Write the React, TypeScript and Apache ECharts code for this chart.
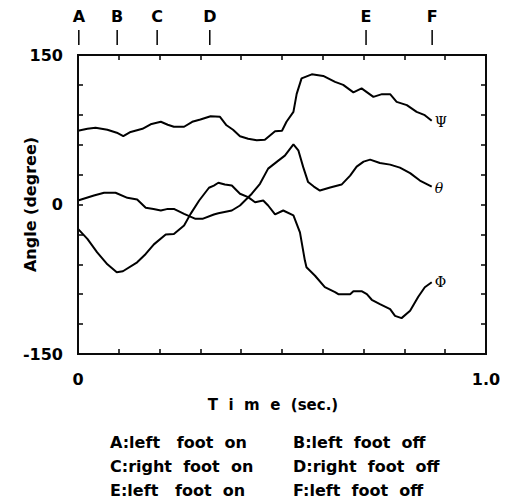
import React, { useEffect, useRef } from "react";
import * as echarts from "echarts";

// Event markers (time in sec.)
const eventTimes = [0.002, 0.096, 0.194, 0.323, 0.706, 0.868];
const eventLabels = ["A", "B", "C", "D", "E", "F"];

// Axis range and tick labels
const xRange = [0, 1];
const yRange = [-150, 150];
const xTickLabels: Record<string, string> = { "0": "0", "1": "1.0" };
const yTickLabels: Record<string, string> = { "-150": "-150", "0": "0", "150": "150" };

// Series: [time (sec.), angle (degree)]
const psi: number[][] = [
  [0, 74], [0.023, 76], [0.043, 77], [0.072, 75], [0.095, 72], [0.111, 68.5], [0.129, 72.8],
  [0.158, 76], [0.178, 80.5], [0.203, 83], [0.22, 80], [0.235, 78], [0.26, 78], [0.28, 83],
  [0.3, 85.3], [0.325, 88.6], [0.348, 88], [0.364, 79.5], [0.38, 75], [0.397, 68.5],
  [0.417, 66], [0.438, 64.4], [0.458, 65], [0.483, 73.5], [0.5, 74], [0.511, 83], [0.528, 93],
  [0.536, 111], [0.548, 126.5], [0.573, 130.6], [0.601, 129], [0.63, 123], [0.65, 120],
  [0.675, 112.5], [0.695, 116.5], [0.724, 108], [0.745, 110.7], [0.765, 110.7], [0.781, 103],
  [0.806, 99.7], [0.83, 93], [0.85, 89.6], [0.867, 84],
];
const theta: number[][] = [
  [0, 4], [0.039, 9], [0.064, 11.8], [0.092, 11.8], [0.121, 6.7], [0.145, 5], [0.166, -3.3],
  [0.185, -4.5], [0.203, -6], [0.22, -4.4], [0.235, -4.4], [0.26, -9.4], [0.288, -14.4],
  [0.305, -14.4], [0.333, -10], [0.344, -8.7], [0.377, -6], [0.397, -1], [0.426, 10.8],
  [0.446, 20.8], [0.466, 36], [0.491, 44], [0.507, 49], [0.528, 60.4], [0.54, 54.4],
  [0.552, 37.5], [0.564, 22.5], [0.578, 18], [0.593, 14], [0.618, 17], [0.646, 20],
  [0.667, 29], [0.683, 38], [0.7, 43], [0.716, 45], [0.74, 41.6], [0.765, 40], [0.789, 37],
  [0.814, 31.5], [0.838, 24], [0.867, 18],
];
const phi: number[][] = [
  [0, -24.5], [0.023, -34.5], [0.047, -48], [0.072, -60], [0.095, -68], [0.11, -67],
  [0.145, -58], [0.166, -49.6], [0.186, -40], [0.215, -30], [0.235, -29.5], [0.26, -21],
  [0.276, -9.4], [0.297, 4], [0.321, 16.8], [0.333, 19], [0.344, 21.8], [0.36, 20],
  [0.377, 19], [0.397, 10.8], [0.417, 7.4], [0.434, 2.3], [0.454, 4], [0.466, -1],
  [0.483, -10], [0.503, -6], [0.528, -11], [0.544, -28], [0.556, -56], [0.56, -63],
  [0.581, -71.5], [0.605, -83], [0.63, -88], [0.638, -90], [0.667, -90], [0.675, -87],
  [0.695, -87], [0.708, -90], [0.72, -95.6], [0.74, -100], [0.765, -105], [0.777, -111.7],
  [0.793, -114], [0.814, -106.7], [0.834, -92.6], [0.85, -83], [0.867, -78],
];

const legendLeft = ["A:left   foot  on", "C:right  foot  on", "E:left   foot  on"];
const legendRight = ["B:left  foot  off", "D:right  foot  off", "F:left  foot  off"];

const SANS = "DejaVu Sans";
const SERIF = "DejaVu Serif";
const INK = "#000000";

export default function App() {
  const ref = useRef<HTMLDivElement>(null);
  useEffect(() => {
    document.body.style.margin = "0";
    if (!ref.current) return;
    const chart = echarts.init(ref.current, null, { renderer: "svg" });
    const mkLine = () => ({ show: true, onZero: false, lineStyle: { color: INK, width: 2 } });
    const mkTick = () => ({ show: true, inside: true, length: 5, lineStyle: { color: INK, width: 1.5 } });
    const lineSeries = (name: string, data: number[][], italic: boolean, dy: number) => ({
      type: "line",
      name,
      data,
      xAxisIndex: 0,
      yAxisIndex: 0,
      showSymbol: false,
      symbol: "none",
      lineStyle: { color: INK, width: 2 },
      endLabel: {
        show: true,
        formatter: name,
        fontFamily: SERIF,
        fontSize: 14,
        fontStyle: italic ? "italic" : "normal",
        color: INK,
        distance: 3,
        offset: [0, dy],
      },
    });
    const graphics: any[] = [];
    const rowsY = [443, 467, 491];
    rowsY.forEach((y, i) => {
      graphics.push({
        type: "text",
        left: 110,
        top: y - 9,
        style: { text: legendLeft[i], font: `bold 16px ${SANS}`, fill: INK },
      });
      graphics.push({
        type: "text",
        left: 293,
        top: y - 9,
        style: { text: legendRight[i], font: `bold 16px ${SANS}`, fill: INK },
      });
    });
    chart.setOption({
      animation: false,
      grid: { left: 78, top: 55, width: 408, height: 299, outerBoundsMode: "none" },
      xAxis: [
        {
          type: "value",
          position: "bottom",
          min: xRange[0],
          max: xRange[1],
          interval: 0.1,
          axisLine: mkLine(),
          axisTick: mkTick(),
          splitLine: { show: false },
          axisLabel: {
            margin: 17,
            fontFamily: SANS,
            fontWeight: "bold",
            fontSize: 16,
            color: INK,
            showMaxLabel: true,
            formatter: (v: number) => xTickLabels[String(Math.round(v * 10) / 10)] ?? "",
          },
          name: "T  i  m  e  (sec.)",
          nameLocation: "middle",
          nameGap: 43,
          nameMoveOverlap: false,
          nameTextStyle: { fontFamily: SANS, fontWeight: "bold", fontSize: 15, color: INK, padding: [0, 18, 0, 0] },
        },
        {
          type: "value",
          position: "top",
          min: xRange[0],
          max: xRange[1],
          interval: 0.1,
          axisLine: mkLine(),
          axisTick: mkTick(),
          splitLine: { show: false },
          axisLabel: { show: false },
        },
      ],
      yAxis: [
        {
          type: "value",
          position: "left",
          min: yRange[0],
          max: yRange[1],
          interval: 30,
          axisLine: mkLine(),
          axisTick: mkTick(),
          splitLine: { show: false },
          axisLabel: {
            margin: 15,
            fontFamily: SANS,
            fontWeight: "bold",
            fontSize: 16,
            color: INK,
            formatter: (v: number) => yTickLabels[String(Math.round(v))] ?? "",
          },
          name: "Angle (degree)",
          nameLocation: "middle",
          nameRotate: 90,
          nameGap: 40,
          nameMoveOverlap: false,
          nameTextStyle: { fontFamily: SANS, fontWeight: "bold", fontSize: 16, color: INK },
        },
        {
          type: "value",
          position: "right",
          min: yRange[0],
          max: yRange[1],
          interval: 30,
          axisLine: mkLine(),
          axisTick: mkTick(),
          splitLine: { show: false },
          axisLabel: { show: false },
        },
      ],
      series: [
        lineSeries("Ψ", psi, false, 1),
        lineSeries("θ", theta, true, 1),
        lineSeries("Φ", phi, false, 0),
        {
          type: "custom",
          clip: false,
          silent: true,
          xAxisIndex: 0,
          yAxisIndex: 0,
          data: eventTimes.map((t) => [t, yRange[1]]),
          renderItem: (params: any, api: any) => {
            const p = api.coord([api.value(0), api.value(1)]);
            return {
              type: "group",
              children: [
                {
                  type: "line",
                  shape: { x1: p[0], y1: p[1] - 25, x2: p[0], y2: p[1] - 10 },
                  style: { stroke: INK, lineWidth: 1.5 },
                },
                {
                  type: "text",
                  x: p[0],
                  y: p[1] - 39,
                  style: {
                    text: eventLabels[params.dataIndex],
                    align: "center",
                    verticalAlign: "middle",
                    font: `bold 16px ${SANS}`,
                    fill: INK,
                  },
                },
              ],
            };
          },
        },
        {
          // plot frame drawn as four thin filled bars
          type: "custom",
          clip: false,
          silent: true,
          z: 100,
          xAxisIndex: 0,
          yAxisIndex: 0,
          data: [[xRange[0], yRange[1], xRange[1], yRange[0]]],
          renderItem: (_params: any, api: any) => {
            const a = api.coord([api.value(0), api.value(1)]);
            const b = api.coord([api.value(2), api.value(3)]);
            const w = 2;
            const x0 = a[0] - w / 2;
            const y0 = a[1] - w / 2;
            const W = b[0] - a[0] + w;
            const H = b[1] - a[1] + w;
            const bar = (x: number, y: number, ww: number, hh: number) => ({
              type: "rect",
              shape: { x, y, width: ww, height: hh },
              style: { fill: "#0a0a0a" },
            });
            return {
              type: "group",
              children: [
                bar(x0, y0, W, w),
                bar(x0, y0 + H - w, W, w),
                bar(x0, y0, w, H),
                bar(x0 + W - w, y0, w, H),
              ],
            };
          },
        },
      ],
      graphic: graphics,
    });
    return () => chart.dispose();
  }, []);
  return <div ref={ref} style={{ width: 505, height: 499 }} />;
}
